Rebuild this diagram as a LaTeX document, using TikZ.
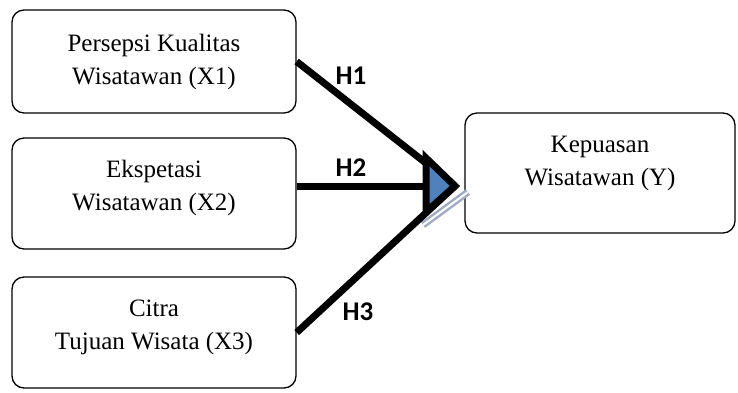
\documentclass[tikz,border=0pt]{standalone}
\usepackage{fontspec}
\setmainfont{Liberation Serif}
\newfontfamily\hfont{Carlito}
\usetikzlibrary{calc}

\definecolor{headblue}{RGB}{79,129,189}
\definecolor{headgray}{RGB}{160,172,196}

\begin{document}
\begin{tikzpicture}
    [x=1pt, y=-1pt,
     varbox/.style={draw, rounded corners=12pt, line width=1.3pt, align=center,
                    minimum width=284pt, font=\fontsize{25}{33}\selectfont},
     link/.style={line width=7pt},
     head/.style={draw=black, fill=headblue, line width=7pt, line join=miter},
     headshade/.style={draw=headgray, line width=2.5pt, double=white, double distance=2pt},
     hyp/.style={font=\hfont\bfseries\fontsize{27}{27}\selectfont}]

    \useasboundingbox (0,0) rectangle (738,392);

    \node[varbox, minimum height=103pt] (x1) at (154,61.5) {Persepsi Kualitas\\Wisatawan (X1)};
    \node[varbox, minimum height=111pt, text depth=16pt] (x2) at (154,193.5) {Ekspetasi\\Wisatawan (X2)};
    \node[varbox, minimum height=111pt, text depth=16pt] (x3) at (154,332.5) {Citra\\Tujuan Wisata (X3)};
    \node[varbox, minimum width=270pt, minimum height=120pt, text depth=25pt] (y) at (600,173) {Kepuasan\\Wisatawan (Y)};

    \coordinate (tip) at (455,186);

    \draw[headshade] ($(tip)+(-32,39)$) -- ($(tip)+(13,6)$);

    \draw[link] (x1.east) -- (tip);
    \draw[link] (x2.east |- tip) -- (tip);
    \draw[link] (x3.east) -- (tip);

    \draw[head] ($(tip)+(-29,-28)$) -- (tip) -- ($(tip)+(-29,26)$) -- cycle;

    \node[hyp] (h1) at (351,76) {H1};
    \node[hyp] (h2) at (351,168) {H2};
    \node[hyp] (h3) at (358,312) {H3};
\end{tikzpicture}
\end{document}
